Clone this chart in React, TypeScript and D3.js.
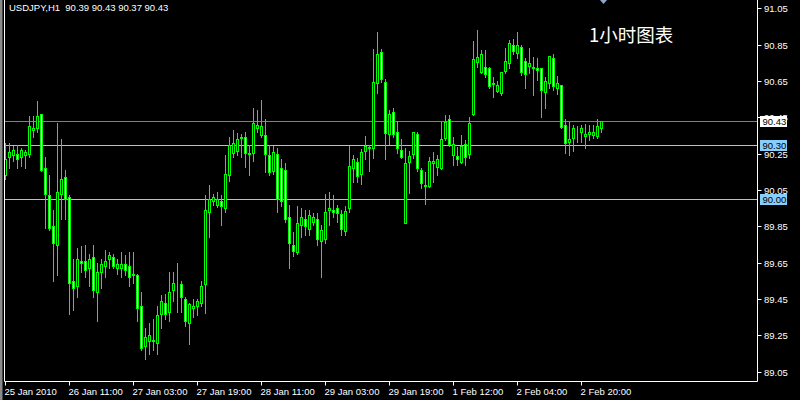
import React from "react";
import * as d3 from "d3";

const symbolTitle = "USDJPY,H1  90.39 90.43 90.37 90.43";
const chartCaption = "1小时图表";

const opens = [90.13,90.23,90.24,90.25,90.23,90.24,90.25,90.38,90.39,90.47,90.17,90.02,89.85,89.75,90.03,90.12,90.01,89.55,89.52,89.66,89.66,89.62,89.68,89.49,89.60,89.63,89.67,89.68,89.62,89.62,89.645,89.63,89.59,89.58,89.41,89.19,89.22,89.22,89.21,89.37,89.43,89.38,89.50,89.53,89.53,89.45,89.32,89.40,89.41,89.43,89.53,89.93,89.99,89.97,89.99,89.95,90.13,90.255,90.265,90.335,90.34,90.25,90.255,90.39,90.35,90.35,90.24,90.157,90.25,90.17,90.16,89.90,89.75,89.707,89.858,89.89,89.836,89.876,89.89,89.77,89.78,89.94,89.94,89.953,89.916,89.826,89.949,90.17,90.206,90.136,90.265,90.285,90.279,90.637,90.808,90.646,90.357,90.478,90.368,90.270,89.867,90.206,90.246,90.357,90.158,90.078,90.074,90.197,90.178,90.170,90.338,90.441,90.243,90.237,90.203,90.301,90.246,90.467,90.756,90.698,90.727,90.720,90.637,90.597,90.586,90.707,90.747,90.848,90.806,90.835,90.760,90.734,90.725,90.720,90.720,90.591,90.637,90.775,90.610,90.628,90.408,90.316,90.338,90.381,90.368,90.347,90.357,90.353,90.349,90.39];
const highs = [90.31,90.31,90.29,90.30,90.28,90.27,90.46,90.46,90.54,90.47,90.23,90.13,89.94,90.42,90.33,90.16,90.02,89.67,89.73,89.74,89.75,89.70,89.75,89.65,89.67,89.72,89.71,89.70,89.67,89.71,89.69,89.71,89.71,89.59,89.49,89.29,89.32,89.34,89.41,89.47,89.48,89.60,89.60,89.65,89.55,89.46,89.43,89.45,89.45,89.55,90.02,90.075,90.03,90.04,90.02,90.24,90.34,90.38,90.365,90.36,90.37,90.30,90.50,90.49,90.546,90.44,90.30,90.29,90.28,90.22,90.20,89.97,89.82,89.963,89.95,89.94,89.94,89.922,89.925,89.86,90.03,90.04,90.02,89.967,89.94,89.962,90.294,90.243,90.224,90.276,90.347,90.297,90.824,90.922,90.824,90.661,90.490,90.503,90.432,90.329,90.279,90.265,90.371,90.368,90.173,90.151,90.234,90.257,90.243,90.426,90.463,90.463,90.34,90.288,90.353,90.325,90.454,90.870,90.931,90.821,90.821,90.729,90.674,90.650,90.701,90.830,90.876,90.881,90.922,90.848,90.775,90.830,90.784,90.775,90.724,90.674,90.788,90.800,90.680,90.628,90.441,90.426,90.408,90.404,90.408,90.412,90.408,90.408,90.439,90.43];
const lows = [90.11,90.17,90.21,90.17,90.18,90.17,90.23,90.34,90.37,90.155,89.84,89.83,89.55,89.58,89.89,89.89,89.37,89.39,89.46,89.60,89.57,89.52,89.46,89.33,89.51,89.57,89.62,89.62,89.59,89.57,89.58,89.52,89.54,89.33,89.17,89.12,89.15,89.17,89.15,89.29,89.34,89.33,89.44,89.38,89.38,89.30,89.20,89.35,89.36,89.41,89.375,89.79,89.97,89.955,89.86,89.93,90.10,90.23,90.24,90.23,90.175,90.13,90.21,90.37,90.344,90.15,90.13,90.14,89.93,89.96,89.876,89.62,89.687,89.70,89.794,89.80,89.80,89.858,89.75,89.57,89.76,89.86,89.90,89.876,89.80,89.80,89.931,90.096,90.096,90.085,90.219,90.156,90.228,90.586,90.646,90.219,90.303,90.340,90.252,90.224,89.867,90.032,90.224,90.156,90.059,89.973,90.068,90.096,90.133,90.166,90.325,90.29,90.19,90.188,90.197,90.188,90.224,90.463,90.729,90.692,90.674,90.610,90.564,90.591,90.573,90.692,90.720,90.797,90.775,90.683,90.610,90.692,90.573,90.656,90.454,90.503,90.610,90.600,90.580,90.390,90.252,90.243,90.265,90.316,90.316,90.279,90.325,90.334,90.338,90.37];
const closes = [90.22,90.26,90.27,90.22,90.27,90.26,90.40,90.39,90.46,90.16,90.03,89.84,89.76,90.04,90.11,90.00,89.54,89.51,89.67,89.65,89.61,89.67,89.50,89.60,89.64,89.66,89.69,89.63,89.645,89.645,89.61,89.57,89.58,89.40,89.18,89.24,89.25,89.225,89.36,89.44,89.37,89.49,89.54,89.535,89.46,89.33,89.42,89.41,89.44,89.52,89.94,90.00,90.01,90.00,89.96,90.14,90.30,90.31,90.33,90.34,90.255,90.255,90.42,90.41,90.40,90.25,90.15,90.26,90.00,89.99,89.89,89.757,89.715,89.867,89.902,89.85,89.912,89.901,89.78,89.83,89.927,89.95,89.93,89.925,89.836,89.936,90.180,90.219,90.129,90.257,90.290,90.28,90.646,90.797,90.659,90.366,90.467,90.357,90.279,90.234,90.197,90.235,90.368,90.170,90.087,90.07,90.210,90.210,90.221,90.331,90.426,90.301,90.301,90.219,90.292,90.234,90.417,90.769,90.784,90.797,90.687,90.622,90.633,90.628,90.698,90.760,90.857,90.817,90.848,90.698,90.687,90.747,90.723,90.709,90.599,90.650,90.788,90.625,90.637,90.399,90.307,90.331,90.390,90.378,90.390,90.357,90.368,90.368,90.402,90.43];

const priceTicks = ["91.05","90.85","90.65","90.45","90.25","90.05","89.85","89.65","89.45","89.25","89.05"];
const timeLabels = ["25 Jan 2010","26 Jan 11:00","27 Jan 03:00","27 Jan 19:00","28 Jan 11:00","29 Jan 03:00","29 Jan 19:00","1 Feb 12:00","2 Feb 04:00","2 Feb 20:00"];
const barsPerLabel = 16;

const levelValues = [90.43, 90.30, 90.00];
const levelKinds = ["bid", "user", "user"];

const W = 800, H = 400;
const plotLeft = 4.5, plotRight = 757.5, plotBottom = 381.5;
const FONT = "'Liberation Sans', Arial, sans-serif";

export default function App() {
  const n = opens.length;
  const x = d3.scaleLinear().domain([0, n - 1]).range([5, 601]);
  const y = d3.scaleLinear().domain([89.05, 91.05]).range([371.7, 8.3]);
  const px = (i: number) => Math.round(x(i));

  return (
    <svg width={W} height={H} style={{ position: "fixed", left: 0, top: 0, background: "#000" }}>
      <rect x={0} y={0} width={W} height={H} fill="#000" />
      <rect x={0} y={0} width={2.5} height={H} fill="#8a8a8a" />

      {levelValues.map((v, k) => (
        <line key={"lv" + k} x1={plotLeft} x2={plotRight} y1={Math.round(y(v)) + 0.5} y2={Math.round(y(v)) + 0.5}
          stroke={levelKinds[k] === "bid" ? "#808080" : "#87CEFA"} strokeWidth={1} />
      ))}

      {opens.map((o, i) => {
        const c = closes[i];
        const cx = px(i);
        const bull = c >= o;
        const top = Math.round(y(Math.max(o, c)));
        const bot = Math.round(y(Math.min(o, c)));
        return (
          <g key={i}>
            <line x1={cx + 0.5} x2={cx + 0.5} y1={Math.round(y(highs[i]))} y2={Math.round(y(lows[i])) + 1} stroke="#00FF00" strokeWidth={1} />
            <rect x={cx - 0.5} y={top + 0.5} width={2} height={Math.max(bot - top, 0)}
              fill={bull ? "#000" : "#FFFFFF"} stroke="#00FF00" strokeWidth={1} />
          </g>
        );
      })}

      <line x1={plotLeft} x2={plotLeft} y1={0} y2={plotBottom} stroke="#fff" strokeWidth={1} />
      <line x1={plotRight} x2={plotRight} y1={0} y2={plotBottom} stroke="#fff" strokeWidth={1} />
      <line x1={plotLeft} x2={plotRight} y1={plotBottom} y2={plotBottom} stroke="#fff" strokeWidth={1} />

      {priceTicks.map((t, k) => {
        const yy = Math.round(y(+t)) + 0.5;
        return (
          <g key={"pt" + k}>
            <line x1={plotRight} x2={plotRight + 4} y1={yy} y2={yy} stroke="#fff" />
            <text x={764} y={yy + 3.5} fill="#fff" fontFamily={FONT} fontSize={9.5}>{t}</text>
          </g>
        );
      })}

      {levelValues.map((v, k) => {
        const yy = Math.round(y(v)) + 0.5;
        const bid = levelKinds[k] === "bid";
        return (
          <g key={"lb" + k}>
            <rect x={760} y={yy - 5.5} width={27} height={11} fill={bid ? "#fff" : "#87CEFA"} />
            <text x={762.5} y={yy + 3.5} fill="#000" fontFamily={FONT} fontSize={9.5}>{v.toFixed(2)}</text>
          </g>
        );
      })}

      {timeLabels.map((t, k) => {
        const xx = px(k * barsPerLabel) + 0.5;
        return (
          <g key={"tl" + k}>
            <line x1={xx} x2={xx} y1={plotBottom} y2={plotBottom + 4} stroke="#fff" />
            <text x={xx - 1} y={394.5} fill="#fff" fontFamily={FONT} fontSize={9.5}>{t}</text>
          </g>
        );
      })}

      <text x={9} y={10.5} fill="#fff" fontFamily={FONT} fontSize={9.5} style={{ whiteSpace: "pre" }}>{symbolTitle}</text>
      <text x={589} y={41.5} fill="#fff" fontFamily="'Noto Sans CJK SC', sans-serif" fontSize={18.5}>{chartCaption}</text>
      <polygon points={`${px(n - 1) - 1},0 ${px(n - 1) + 6},0 ${px(n - 1) + 2.5},4`} fill="#8fa8c8" />
    </svg>
  );
}
